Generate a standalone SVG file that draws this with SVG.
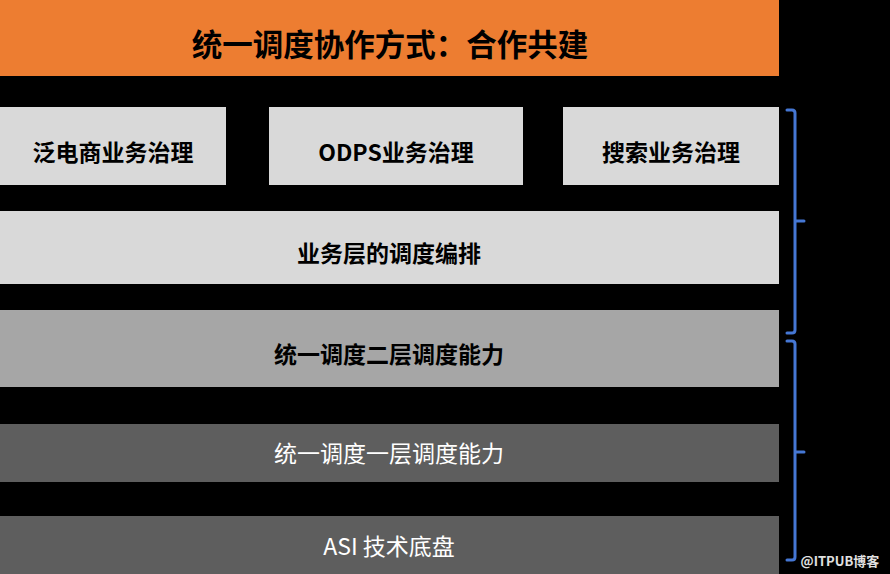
<svg xmlns="http://www.w3.org/2000/svg" width="890" height="574" viewBox="0 0 890 574">
<style>
text{font-family:"Noto Sans CJK SC","Liberation Sans",sans-serif;text-anchor:middle;dominant-baseline:central}
.b{font-weight:bold;fill:#000;font-size:23px}
.w{fill:#fff;font-size:23px}
.br{fill:none;stroke:#4577d4;stroke-width:3;stroke-linecap:round}
</style>
<rect width="890" height="574" fill="#000"/>
<g id="title"><rect x="0" y="0" width="779" height="76" fill="#ed7d31"/><text x="390" y="43" class="b" style="font-size:30.5px">统一调度协作方式：合作共建</text></g>
<g id="n1"><rect x="0" y="107" width="226" height="78" fill="#d9d9d9"/><text x="113" y="151" class="b">泛电商业务治理</text></g>
<g id="n2"><rect x="269" y="107" width="254" height="78" fill="#d9d9d9"/><text x="396" y="151" class="b">ODPS业务治理</text></g>
<g id="n3"><rect x="563" y="107" width="216" height="78" fill="#d9d9d9"/><text x="671" y="151" class="b">搜索业务治理</text></g>
<g id="n4"><rect x="0" y="211" width="779" height="73" fill="#d9d9d9"/><text x="389" y="252" class="b">业务层的调度编排</text></g>
<g id="n5"><rect x="0" y="310" width="779" height="77" fill="#a6a6a6"/><text x="389" y="353" class="b">统一调度二层调度能力</text></g>
<g id="n6"><rect x="0" y="424" width="779" height="58" fill="#5e5e5e"/><text x="389" y="452" class="w">统一调度一层调度能力</text></g>
<g id="n7"><rect x="0" y="516" width="779" height="58" fill="#5e5e5e"/><text x="389" y="545" class="w">ASI 技术底盘</text></g>
<g id="connectors">
<path class="br" d="M787 110 H792 Q795 110 795 113 V330 Q795 333 792 333 H787 M795 221 H804"/>
<path class="br" d="M787 341 H792 Q795 341 795 344 V557 Q795 560 792 560 H787 M795 452 H804"/>
</g>
<text x="840" y="560" style="font-size:13px;font-weight:bold;fill:#e0e0e0">@ITPUB博客</text>
</svg>
